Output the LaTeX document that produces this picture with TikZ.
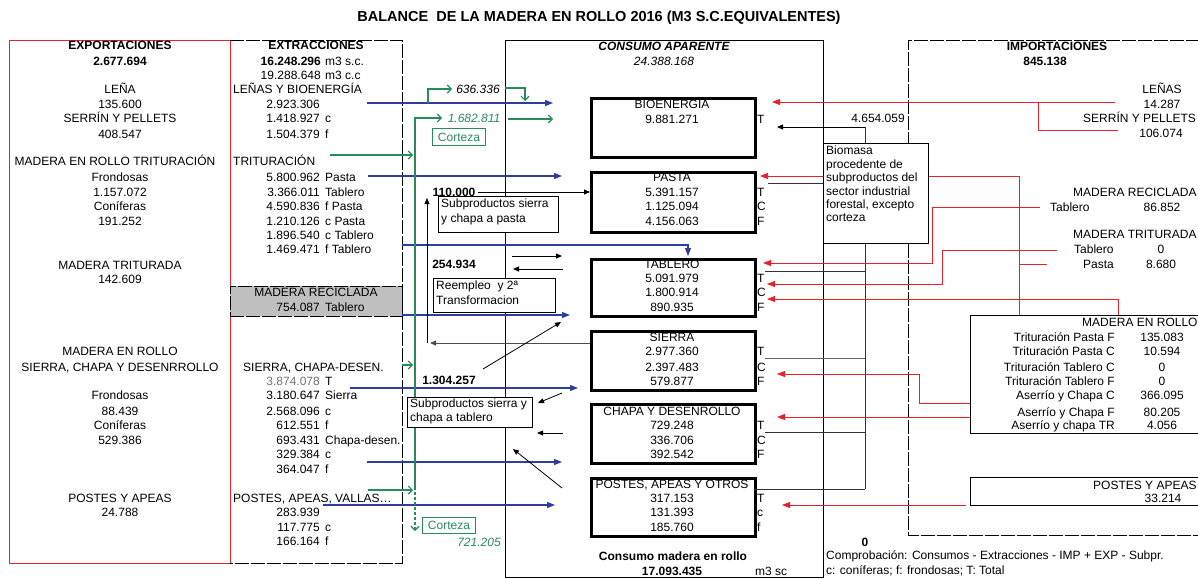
\documentclass[tikz,border=0pt]{standalone}
\usepackage{fontspec}
\setmainfont{Liberation Sans}
\usetikzlibrary{arrows.meta}
\definecolor{bl}{RGB}{46,62,160}
\definecolor{rd}{RGB}{232,32,42}
\definecolor{gr}{RGB}{40,140,90}
\definecolor{gbox}{RGB}{191,191,191}
\begin{document}
\begin{tikzpicture}[x=1pt,y=-1pt,
 every node/.style={inner sep=0pt, font=\fontsize{12}{14}\selectfont},
 tx/.style={anchor=base},
 tw/.style={anchor=base west},
 te/.style={anchor=base east},
 bf/.style={font=\bfseries\fontsize{12}{14}\selectfont},
 it/.style={font=\itshape\fontsize{12}{14}\selectfont},
 cbox/.style={draw, line width=3pt, minimum width=164, anchor=north west},
 lbox/.style={draw, line width=0.6pt, fill=white, anchor=north west},
 dsh/.style={line width=0.7pt, dash pattern=on 14pt off 2pt},
 ba/.style={bl, line width=1.1pt, -{Triangle[length=8pt,width=6pt]}},
 ra/.style={rd, line width=0.9pt, -{Triangle[length=8pt,width=6pt]}},
 rl/.style={rd, line width=0.9pt},
 ga/.style={gr, line width=1.1pt, -{Straight Barb[length=4pt,width=8pt]}},
 ka/.style={black, line width=0.8pt, -{Triangle[length=6pt,width=5pt]}},
 kl/.style={black!80, line width=0.8pt}
]
\useasboundingbox (0,0) rectangle (1198,578);
\fill[white] (0,0) rectangle (1198,578);

% title
\node[tx, font=\bfseries\fontsize{14.5}{17}\selectfont] (title) at (599,22) {BALANCE\ \ DE LA MADERA EN ROLLO 2016 (M3 S.C.EQUIVALENTES)};

% frames
\draw[rd, line width=0.8pt] (9,40) rectangle (230,563);
\draw[dsh] (230,40) -- (402,40) -- (402,563) -- (230,563);
\draw[line width=0.7pt] (505,40) rectangle (823,577);
\draw[dsh] (1200,40) -- (908,40) -- (908,535) -- (1200,535);
\node[draw, dsh, fill=gbox, minimum width=172, minimum height=30, anchor=north west] (recbox) at (230,286) {};

% ===== EXPORTACIONES =====
\node[tx,bf] (exT) at (120,50) {EXPORTACIONES};
\node[tx,bf] (exV) at (120,65) {2.677.694};
\node[tx] (exL) at (120,93) {LEÑA};
\node[tx] (exLv) at (120,108) {135.600};
\node[tx] (exS) at (120,122) {SERRÍN Y PELLETS};
\node[tx] (exSv) at (120,138) {408.547};
\node[tx] (exMT) at (115,165) {MADERA EN ROLLO TRITURACIÓN};
\node[tx] (exF1) at (120,181) {Frondosas};
\node[tx] (exF1v) at (120,196) {1.157.072};
\node[tx] (exC1) at (120,210) {Coníferas};
\node[tx] (exC1v) at (120,225) {191.252};
\node[tx] (exTr) at (120,269) {MADERA TRITURADA};
\node[tx] (exTrv) at (120,283) {142.609};
\node[tx] (exMR) at (120,355) {MADERA EN ROLLO};
\node[tx] (exSC) at (120,371) {SIERRA, CHAPA Y DESENRROLLO};
\node[tx] (exF2) at (120,399) {Frondosas};
\node[tx] (exF2v) at (120,415) {88.439};
\node[tx] (exC2) at (120,429) {Coníferas};
\node[tx] (exC2v) at (120,444) {529.386};
\node[tx] (exP) at (120,502) {POSTES Y APEAS};
\node[tx] (exPv) at (120,516) {24.788};

% ===== EXTRACCIONES =====
\node[tx,bf] (xT) at (316,50) {EXTRACCIONES};
\node[te,bf] (x1) at (321,65) {16.248.296}; \node[tw] (x1u) at (325,65) {m3 s.c.};
\node[te] (x2) at (321,79) {19.288.648}; \node[tw] (x2u) at (325,79) {m3 c.c};
\node[tw] (xL) at (233,93) {LEÑAS Y BIOENERGÍA};
\node[te] (xL1) at (320,108) {2.923.306};
\node[te] (xL2) at (320,122) {1.418.927}; \node[tw] (xL2u) at (325,122) {c};
\node[te] (xL3) at (320,138) {1.504.379}; \node[tw] (xL3u) at (325,138) {f};
\node[tw] (xTr) at (233,165) {TRITURACIÓN};
\node[te] (xT1) at (320,181) {5.800.962}; \node[tw] (xT1u) at (325,181) {Pasta};
\node[te] (xT2) at (320,196) {3.366.011}; \node[tw] (xT2u) at (325,196) {Tablero};
\node[te] (xT3) at (320,210) {4.590.836}; \node[tw] (xT3u) at (325,210) {f Pasta};
\node[te] (xT4) at (320,225) {1.210.126}; \node[tw] (xT4u) at (325,225) {c Pasta};
\node[te] (xT5) at (320,239) {1.896.540}; \node[tw] (xT5u) at (325,239) {c Tablero};
\node[te] (xT6) at (320,253) {1.469.471}; \node[tw] (xT6u) at (325,253) {f Tablero};
\node[tx] (xR) at (316,296) {MADERA RECICLADA};
\node[te] (xR1) at (320,311) {754.087}; \node[tw] (xR1u) at (325,311) {Tablero};
\node[tw] (xS) at (243,371) {SIERRA, CHAPA-DESEN.};
\node[te, text=black!55] (xS1) at (320,385) {3.874.078}; \node[tw] (xS1u) at (325,385) {T};
\node[te] (xS2) at (320,399) {3.180.647}; \node[tw] (xS2u) at (325,399) {Sierra};
\node[te] (xS3) at (320,415) {2.568.096}; \node[tw] (xS3u) at (325,415) {c};
\node[te] (xS4) at (320,429) {612.551}; \node[tw] (xS4u) at (325,429) {f};
\node[te] (xS5) at (320,444) {693.431}; \node[tw] (xS5u) at (325,444) {Chapa-desen.};
\node[te] (xS6) at (320,458) {329.384}; \node[tw] (xS6u) at (325,458) {c};
\node[te] (xS7) at (320,473) {364.047}; \node[tw] (xS7u) at (325,473) {f};
\node[tw] (xP) at (233,502) {POSTES, APEAS, VALLAS…};
\node[te] (xP1) at (320,516) {283.939};
\node[te] (xP2) at (320,531) {117.775}; \node[tw] (xP2u) at (325,531) {c};
\node[te] (xP3) at (320,545) {166.164}; \node[tw] (xP3u) at (325,545) {f};

% ===== CONSUMO =====
\node[tx, font=\bfseries\itshape\fontsize{12}{14}\selectfont] (cT) at (664,51) {CONSUMO APARENTE};
\node[tx,it] (cV) at (664,65) {24.388.168};

\node[cbox, minimum height=59] (bio) at (590,97) {};
\node[cbox, minimum height=60] (pasta) at (590,171) {};
\node[cbox, minimum height=57] (tab) at (590,258) {};
\node[cbox, minimum height=59] (sie) at (590,330) {};
\node[cbox, minimum height=59] (cha) at (590,403) {};
\node[cbox, minimum height=58] (pos) at (590,477) {};

\node[tx] (bio1) at (672,108) {BIOENERGIA};
\node[tx] (bio2) at (672,123) {9.881.271}; \node[tw] (bioT) at (757,123) {T};
\node[tx] (pa1) at (672,181) {PASTA};
\node[tx] (pa2) at (672,196) {5.391.157}; \node[tw] (paT) at (757,196) {T};
\node[tx] (pa3) at (672,210) {1.125.094}; \node[tw] (paC) at (757,210) {C};
\node[tx] (pa4) at (672,225) {4.156.063}; \node[tw] (paF) at (757,225) {F};
\node[tx] (ta1) at (672,268) {TABLERO};
\node[tx] (ta2) at (672,282) {5.091.979}; \node[tw] (taT) at (757,282) {T};
\node[tx] (ta3) at (672,296) {1.800.914}; \node[tw] (taC) at (757,296) {C};
\node[tx] (ta4) at (672,311) {890.935}; \node[tw] (taF) at (757,311) {F};
\node[tx] (si1) at (672,341) {SIERRA};
\node[tx] (si2) at (672,355) {2.977.360}; \node[tw] (siT) at (757,355) {T};
\node[tx] (si3) at (672,371) {2.397.483}; \node[tw] (siC) at (757,371) {C};
\node[tx] (si4) at (672,385) {579.877}; \node[tw] (siF) at (757,385) {F};
\node[tx] (ch1) at (672,415) {CHAPA Y DESENROLLO};
\node[tx] (ch2) at (672,429) {729.248}; \node[tw] (chT) at (757,429) {T};
\node[tx] (ch3) at (672,444) {336.706}; \node[tw] (chC) at (757,444) {C};
\node[tx] (ch4) at (672,458) {392.542}; \node[tw] (chF) at (757,458) {F};
\node[tx] (po1) at (672,488) {POSTES, APEAS Y OTROS};
\node[tx] (po2) at (672,502) {317.153}; \node[tw] (poT) at (757,502) {T};
\node[tx] (po3) at (672,516) {131.393}; \node[tw] (poC) at (757,516) {c};
\node[tx] (po4) at (672,531) {185.760}; \node[tw] (poF) at (757,531) {f};

\node[tx,bf] (cm1) at (673,560) {Consumo madera en rollo};
\node[tx,bf] (cm2) at (672,575) {17.093.435};
\node[tw] (cm3) at (755,575) {m3 sc};

% ===== middle labels =====
\node[tx,bf] (n110) at (454,196) {110.000};
\node[tx,bf] (n254) at (454,268) {254.934};
\node[tx,bf] (n1304) at (449,384) {1.304.257};
\node[tx,it] (n636) at (478,93) {636.336};
\node[tx,it,text=gr] (n1682) at (474,122) {1.682.811};
\node[tx,it,text=gr] (n721) at (479,546) {721.205};

% ===== IMPORTACIONES text =====
\node[tx,bf] (imT) at (1057,51) {IMPORTACIONES};
\node[tx,bf] (imV) at (1045,65) {845.138};
\node[tx] (imL) at (1162,93) {LEÑAS};
\node[tx] (imLv) at (1162,108) {14.287};
\node[tw] (imS) at (1083,122) {SERRÍN Y PELLETS};
\node[tx] (imSv) at (1161,137) {106.074};
\node[tw] (imR) at (1073,196) {MADERA RECICLADA};
\node[tw] (imRt) at (1050,211) {Tablero};
\node[tx] (imRv) at (1162,211) {86.852};
\node[tw] (imTr) at (1073,238) {MADERA TRITURADA};
\node[tw] (imTrt) at (1074,253) {Tablero};
\node[tx] (imTrtv) at (1161,253) {0};
\node[tw] (imTrp) at (1083,268) {Pasta};
\node[tx] (imTrpv) at (1161,268) {8.680};

% ===== black T lines and bioenergy return =====
\draw[kl] (768,183) -- (823,183);
\draw[kl] (765,271) -- (865,271);
\draw[kl, black!60] (765,358) -- (865,358);
\draw[kl] (765,432) -- (865,432);
\draw[kl] (754,489) -- (865,489);
\draw[kl] (865,489) -- (865,127);
\draw[ka] (865,127) -- (777,127);
\node[tx] (n4654) at (878,122) {4.654.059};

% ===== red lines =====
\draw[ra] (1115,102) -- (772,102);
\draw[rl] (1118,130) -- (1038,130) -- (1038,102);
\draw[ra] (1040,207) -- (932,207) -- (932,263) -- (763,263);
\draw[ra] (1057,250) -- (942,250) -- (942,284) -- (767,284);
\draw[rl] (1047,264) -- (1019,264);
\draw[ra] (1019,315) -- (1019,176) -- (760,176);
\draw[ra] (1118,315) -- (1118,299) -- (767,299);
\draw[ra] (970,403) -- (919,403) -- (919,374) -- (777,374);
\draw[ra] (970,417) -- (777,417);
\draw[ra] (966,505) -- (782,505);

% biomasa box
\node[lbox, minimum width=105, minimum height=100] (biom) at (823,143) {};
\node[anchor=north west, align=left, font=\fontsize{12}{13.4}\selectfont] (biomt) at (826,146)
 {Biomasa\\procedente de\\subproductos del\\sector industrial\\forestal, excepto\\corteza};

% imports boxes
\node[lbox, minimum width=240, minimum height=118] (mrbox) at (970,315) {};
\node[tw] (mr0) at (1082,326) {MADERA EN ROLLO};
\node[te] (mr1) at (1115,341) {Trituración Pasta F};  \node[tx] (mr1v) at (1162,341) {135.083};
\node[te] (mr2) at (1115,355) {Trituración Pasta C};  \node[tx] (mr2v) at (1162,355) {10.594};
\node[te] (mr3) at (1115,371) {Trituración Tablero C}; \node[tx] (mr3v) at (1162,371) {0};
\node[te] (mr4) at (1115,385) {Trituración Tablero F}; \node[tx] (mr4v) at (1162,385) {0};
\node[te] (mr5) at (1115,399) {Aserrío y Chapa C};    \node[tx] (mr5v) at (1162,399) {366.095};
\node[te] (mr6) at (1115,416) {Aserrío y Chapa F};    \node[tx] (mr6v) at (1162,416) {80.205};
\node[te] (mr7) at (1115,429) {Aserrío y chapa TR};   \node[tx] (mr7v) at (1162,429) {4.056};
\node[lbox, minimum width=240, minimum height=28] (pabox) at (970,477) {};
\node[tw] (pa0) at (1093,489) {POSTES Y APEAS};
\node[tx] (pa0v) at (1163,502) {33.214};

% ===== blue arrows =====
\draw[ba] (367,103) -- (553,103);
\draw[ba] (368,176) -- (562,176);
\draw[ba] (402,245) -- (688,245) -- (688,256);
\draw[ba] (402,315) -- (570,315);
\draw[ba] (350,388) -- (578,388);
\draw[ba] (367,462) -- (562,462);
\draw[ba] (323,505) -- (555,505);

% ===== green arrows =====
\draw[ga] (428,103) -- (428,89) -- (452,89);
\draw[ga] (505,88) -- (525,88) -- (525,101);
\draw[ga] (415,490) -- (415,118) -- (442,118);
\draw[ga] (508,119) -- (553,119);
\draw[ga] (330,155) -- (413,155);
\draw[ga] (402,365) -- (413,365);
\draw[ga] (368,490) -- (413,490);
\draw[ga, dash pattern=on 3pt off 2pt] (415,492) -- (415,531);
\node[draw=gr, line width=0.9pt, text=gr, minimum width=53, minimum height=17, anchor=north west] (cort1) at (432,128) {Corteza};
\node[draw=gr, line width=0.9pt, text=gr, minimum width=53, minimum height=16, anchor=north west] (cort2) at (422,517) {Corteza};

% ===== black middle arrows =====
\draw[ka] (478,192) -- (590,192);
\draw[ka, black!70] (590,343) -- (430,343);
\draw[ka] (427,343) -- (427,198);
\draw[ka] (512,256) -- (562,256);
\draw[ka] (563,269) -- (513,269);
\draw[ka] (483,369) -- (561,322);
\draw[ka] (562,393) -- (538,403);
\draw[ka] (563,433) -- (537,433);
\draw[ka] (562,488) -- (513,449);

\node[lbox, minimum width=120, minimum height=36] (sp1) at (438,196) {};
\node[anchor=north west, align=left, font=\fontsize{12}{14.5}\selectfont] (sp1t) at (441,199) {Subproductos sierra\\y chapa a pasta};
\node[lbox, minimum width=122, minimum height=34] (re1) at (433,278) {};
\node[anchor=north west, align=left, font=\fontsize{12}{14.5}\selectfont] (re1t) at (436,281) {Reempleo\ \ y 2ª\\Transformacion};
\node[lbox, minimum width=125, minimum height=30] (sp2) at (407,397) {};
\node[anchor=north west, align=left, font=\fontsize{12}{14}\selectfont] (sp2t) at (410,399) {Subproductos sierra y\\chapa a tablero};

% bottom notes
\node[tx,bf] (zero) at (865,546) {0};
\node[tw] (comp) at (826,559) {Comprobación: Consumos - Extracciones - IMP + EXP - Subpr.};
\node[tw] (leg) at (826,574) {c: coníferas; f: frondosas; T: Total};
\end{tikzpicture}
\end{document}
